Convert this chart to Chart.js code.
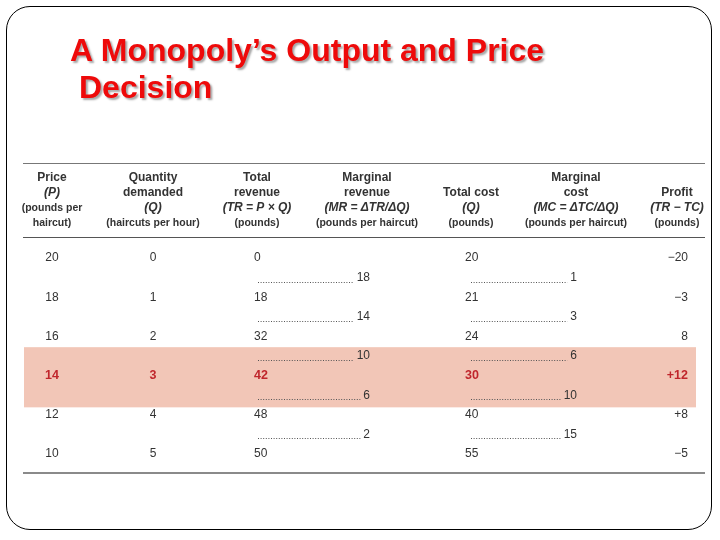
<!DOCTYPE html>
<html><head><meta charset="utf-8">
<script src="https://cdn.jsdelivr.net/npm/chart.js@4/dist/chart.umd.min.js"></script>
<style>
html,body{margin:0;padding:0;background:#fff;width:720px;height:540px;overflow:hidden}
#frame{position:absolute;left:6px;top:6px;width:706px;height:524px;border:1px solid #000;border-radius:24px;box-sizing:border-box}
#title{position:absolute;left:70px;top:32px;margin:0;font:bold 32px "Liberation Sans",Arial,sans-serif;color:#ee0a0a;line-height:37px;text-shadow:2px 2px 2px rgba(0,0,0,.35);white-space:nowrap;z-index:2}
canvas{position:absolute;left:0;top:0}
</style></head><body>
<div id="frame"></div>
<h1 id="title">A Monopoly’s Output and Price<br><span style="padding-left:9px">Decision</span></h1>
<canvas id="c" width="720" height="540"></canvas>
<script>
// ---- data ----
const price = [20, 18, 16, 14, 12, 10];
const quantity = [0, 1, 2, 3, 4, 5];
const totalRevenue = [0, 18, 32, 42, 48, 50];
const marginalRevenue = [18, 14, 10, 6, 2];
const totalCost = [20, 21, 24, 30, 40, 55];
const marginalCost = [1, 3, 6, 10, 15];
const profit = [-20, -3, 8, 12, 8, -5];
const profitLabels = ["\u221220", "\u22123", "8", "+12", "+8", "\u22125"];
const highlightRow = 3;

const headers = [
  ["Price", "(P)", "(pounds per", "haircut)"],
  ["Quantity", "demanded", "(Q)", "(haircuts per hour)"],
  ["Total", "revenue", "(TR = P \u00d7 Q)", "(pounds)"],
  ["Marginal", "revenue", "(MR = \u0394TR/\u0394Q)", "(pounds per haircut)"],
  ["", "Total cost", "(Q)", "(pounds)"],
  ["Marginal", "cost", "(MC = \u0394TC/\u0394Q)", "(pounds per haircut)"],
  ["", "Profit", "(TR \u2212 TC)", "(pounds)"]
];

// ---- layout ----
const FONT = '"Liberation Sans", Arial, sans-serif';
const ROW0 = 258, STEP = 19.6;           // pixel of half-row 0, pixels per half-row
const headerX = [52, 153, 257, 367, 471, 576, 677];
const TXT = '#333';
const RED = '#c0262c';
const BAND = '#f2c6b7';

function mk(label, values, x, odd, align, texts, leaderFrom) {
  return {
    label, data: values.map((v, i) => ({x: x, y: 2 * i + (odd ? 1 : 0), v})),
    pointRadius: 0, showLine: false, align, texts: texts || values.map(String), leaderFrom, odd
  };
}

const datasets = [
  mk('Price', price, 52, false, 'center'),
  mk('Quantity', quantity, 153, false, 'center'),
  mk('Total revenue', totalRevenue, 254, false, 'left'),
  mk('Marginal revenue', marginalRevenue, 370, true, 'right', null, 258),
  mk('Total cost', totalCost, 465, false, 'left'),
  mk('Marginal cost', marginalCost, 577, true, 'right', null, 471),
  mk('Profit', profit, 688, false, 'right', profitLabels)
];

const tablePlugin = {
  id: 'table',
  beforeDatasetsDraw(chart) {
    const {ctx, scales: {x, y}} = chart;
    ctx.save();
    // highlight band
    const b0 = y.getPixelForValue(2 * highlightRow - 1.45);
    const b1 = y.getPixelForValue(2 * highlightRow + 1.62);
    ctx.fillStyle = BAND;
    ctx.fillRect(x.getPixelForValue(24), b0, x.getPixelForValue(696) - x.getPixelForValue(24), b1 - b0);
    // rules
    const base = y.getPixelForValue(0);
    ctx.strokeStyle = '#777'; ctx.lineWidth = 1;
    ctx.beginPath(); ctx.moveTo(23, base - 94.5); ctx.lineTo(705, base - 94.5); ctx.stroke();
    ctx.strokeStyle = '#555';
    ctx.beginPath(); ctx.moveTo(23, base - 20.5); ctx.lineTo(705, base - 20.5); ctx.stroke();
    ctx.strokeStyle = '#8a8a8a'; ctx.lineWidth = 2;
    const bot = y.getPixelForValue(10) + 19;
    ctx.beginPath(); ctx.moveTo(23, bot); ctx.lineTo(705, bot); ctx.stroke();
    // headers
    ctx.textAlign = 'center'; ctx.textBaseline = 'middle'; ctx.fillStyle = TXT;
    headers.forEach((col, c) => {
      col.forEach((t, l) => {
        if (!t) return;
        const unit = t.startsWith('(pounds') || t.startsWith('(haircuts') || t === 'haircut)';
        const vari = !unit && t.startsWith('(');
        ctx.font = (unit ? 'bold 10.5px ' : vari ? 'italic bold 12px ' : 'bold 12px ') + FONT;
        ctx.fillText(t, headerX[c], base - 80 + 15 * l);
      });
    });
    ctx.restore();
  },
  afterDatasetsDraw(chart) {
    const {ctx} = chart;
    ctx.save();
    ctx.textBaseline = 'middle';
    chart.data.datasets.forEach((ds, di) => {
      const meta = chart.getDatasetMeta(di);
      meta.data.forEach((el, j) => {
        const hl = !ds.odd && j === highlightRow;
        ctx.font = (hl ? 'bold 12.5px ' : '12px ') + FONT;
        ctx.fillStyle = hl ? RED : TXT;
        ctx.textAlign = ds.align;
        const t = ds.texts[j];
        ctx.fillText(t, el.x, el.y);
        if (ds.leaderFrom != null) {
          const w = ctx.measureText(t).width;
          ctx.strokeStyle = '#555'; ctx.lineWidth = 1;
          ctx.setLineDash([1, 1.6]);
          ctx.beginPath();
          ctx.moveTo(ds.leaderFrom, Math.round(el.y) + 4.5);
          ctx.lineTo(el.x - w - 3, Math.round(el.y) + 4.5);
          ctx.stroke();
          ctx.setLineDash([]);
        }
      });
    });
    ctx.restore();
  }
};

new Chart(document.getElementById('c'), {
  type: 'scatter',
  data: {datasets},
  options: {
    responsive: false, animation: false, devicePixelRatio: 1,
    layout: {padding: 0},
    plugins: {legend: {display: false}, tooltip: {enabled: false}, title: {display: false}},
    scales: {
      x: {type: 'linear', display: false, min: 0, max: 720},
      y: {type: 'linear', display: false, reverse: true, min: -ROW0 / STEP, max: (540 - ROW0) / STEP}
    }
  },
  plugins: [tablePlugin]
});
</script>
</body></html>
